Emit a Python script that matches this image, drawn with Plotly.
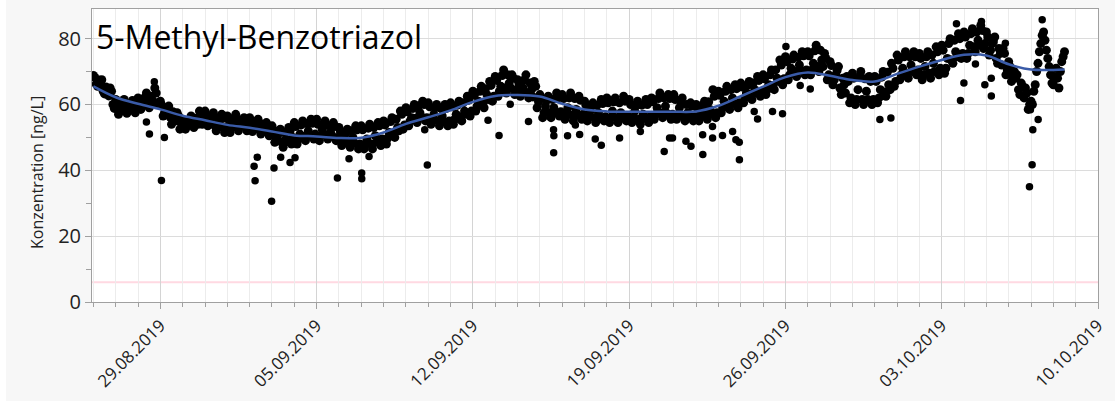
import pandas as pd
import plotly.graph_objects as go

# ---- data ----
# readings every 3 hours starting 26.08.2019 00:00
start_a = "2019-08-26 00:00"
conc_a = [
    68.8, 66.2, 67.4, 67.5, 63.2, 64.0, 65.0, 60.0,   # 26.08
    61.5, 57.0, 59.5, 61.5, 57.3, 59.0, 61.2, 57.5,   # 27.08
    62.0, 58.5, 60.5, 63.5, 59.0, 61.5, 65.0, 60.5,   # 28.08
    61.0, 56.5, 58.5, 59.5, 54.0, 56.0, 57.5, 52.5,   # 29.08
    55.5, 52.5, 54.0, 56.5, 53.0, 55.0, 58.0, 54.0,   # 30.08
    58.0, 53.5, 55.5, 57.5, 52.0, 54.5, 57.0, 51.5,   # 31.08
    56.5, 51.5, 54.0, 57.0, 52.0, 54.5, 56.0, 52.0,   # 01.09
    56.0, 51.8, 54.0, 55.5, 51.0, 53.0, 54.5, 50.5,   # 02.09
    53.5, 48.5, 50.5, 52.5, 47.0, 49.5, 53.0, 48.0,   # 03.09
    54.5, 48.0, 51.0, 55.0, 49.0, 52.0, 55.5, 49.5,   # 04.09
    55.5, 49.0, 52.5, 55.0, 49.5, 51.5, 54.5, 49.0,   # 05.09
    53.0, 47.5, 50.0, 52.5, 47.0, 50.0, 53.5, 46.5,   # 06.09
    53.5, 46.5, 49.5, 54.0, 46.5, 50.5, 54.5, 47.5,   # 07.09
    55.0, 48.0, 51.5, 56.0, 50.0, 53.0, 58.0, 52.5,   # 08.09
    59.0, 53.5, 56.0, 60.0, 54.5, 57.5, 61.0, 55.0,   # 09.09
    60.5, 54.0, 57.0, 60.0, 53.5, 56.5, 60.0, 53.5,   # 10.09
    60.5, 54.0, 57.0, 61.0, 55.0, 58.0, 62.5, 56.5,   # 11.09
    64.0, 58.0, 61.0, 65.5, 59.0, 63.0, 67.0, 61.0,   # 12.09
    68.5, 62.5, 65.5, 70.5, 63.5, 66.5, 69.0, 63.0,   # 13.09
    67.5, 62.5, 65.0, 69.0, 62.0, 64.5, 67.0, 59.0,   # 14.09
    63.0, 56.0, 59.5, 62.5, 56.0, 59.0, 63.5, 56.5,   # 15.09
    63.0, 55.5, 59.0, 63.5, 55.0, 58.5, 62.5, 55.5,   # 16.09
    61.0, 55.0, 58.0, 60.5, 54.5, 57.5, 61.5, 55.0,   # 17.09
    62.0, 54.5, 58.0, 62.0, 54.5, 57.5, 62.5, 55.0,   # 18.09
    61.5, 54.5, 58.0, 61.0, 54.0, 57.0, 61.5, 54.5,   # 19.09
    62.0, 55.5, 59.0, 63.5, 56.0, 59.5, 63.0, 55.5,   # 20.09
    63.0, 55.5, 59.0, 62.0, 55.0, 57.5, 60.5, 55.0,   # 21.09
    60.0, 55.0, 57.5, 61.0, 55.5, 58.5, 64.5, 56.0,   # 22.09
    64.0, 57.5, 61.0, 65.5, 58.5, 62.0, 66.0, 59.0,   # 23.09
    66.5, 60.5, 63.5, 67.0, 61.5, 64.5, 68.5, 62.5,   # 24.09
    69.0, 63.0, 66.0, 70.5, 64.5, 68.0, 73.5, 66.0,   # 25.09
    74.5, 67.5, 71.0, 75.0, 68.5, 72.0, 76.0, 69.0,   # 26.09
    76.0, 69.0, 72.5, 78.0, 70.0, 73.5, 75.5, 67.5,   # 27.09
    73.0, 66.0, 69.0, 71.5, 63.0, 66.0, 68.5, 60.5,   # 28.09
    69.5, 60.0, 64.5, 70.0, 60.0, 64.0, 68.5, 60.0,   # 29.09
    68.5, 60.5, 64.5, 70.0, 62.5, 66.0, 72.5, 65.5,   # 30.09
    75.0, 67.5, 71.0, 76.0, 68.0, 72.0, 76.0, 69.0,   # 01.10
    75.5, 67.5, 71.5, 76.0, 68.0, 72.5, 77.5, 69.0,   # 02.10
    78.0, 69.5, 74.0, 80.0, 72.5, 76.0, 81.5, 74.0,   # 03.10
    82.0, 74.0, 78.0, 83.0, 76.0, 79.5, 84.0, 77.0,   # 04.10
    82.0, 75.0, 78.5, 80.5, 72.5, 75.5, 77.0, 69.0,   # 05.10
    73.0, 67.0, 70.0, 69.0, 63.0, 65.5, 65.0, 58.5,   # 06.10
    61.0, 64.0, 70.0, 76.0, 81.0, 79.5, 74.0, 69.0,   # 07.10
    66.0, 71.0, 65.0, 73.0, 76.0,                     # 08.10
]

# readings every 3 hours starting 26.08.2019 01:30 (in between the ones above)
start_b = "2019-08-26 01:30"
conc_b = [
    68.2, 65.5, 66.8, 64.0, 65.3, 62.6, 64.0, 58.8,   # 26.08
    60.2, 58.3, 60.3, 58.2, 60.0, 58.4, 60.5, 58.6,   # 27.08
    61.2, 59.5, 62.2, 60.2, 62.5, 60.2, 63.5, 60.0,   # 28.08
    59.8, 57.5, 59.0, 56.2, 57.8, 55.0, 56.5, 54.2,   # 29.08
    54.5, 53.5, 55.3, 53.8, 55.8, 54.0, 56.8, 55.0,   # 30.08
    56.8, 54.8, 56.5, 53.5, 56.0, 53.2, 55.8, 53.0,   # 31.08
    55.3, 53.0, 55.8, 53.3, 55.3, 53.5, 55.0, 53.2,   # 01.09
    55.0, 52.8, 54.8, 52.3, 54.0, 52.0, 53.5, 51.0,   # 02.09
    52.3, 49.7, 51.7, 48.5, 51.5, 48.7, 52.0, 50.0,   # 03.09
    53.3, 49.5, 53.8, 50.3, 54.2, 50.5, 54.3, 51.0,   # 04.09
    54.0, 50.5, 53.8, 50.8, 53.5, 50.5, 53.3, 50.0,   # 05.09
    51.8, 48.8, 51.5, 48.5, 52.0, 48.3, 52.3, 48.0,   # 06.09
    52.3, 48.0, 52.8, 48.0, 53.0, 48.5, 53.5, 49.5,   # 07.09
    53.8, 49.8, 54.8, 51.0, 55.5, 52.0, 57.0, 53.8,   # 08.09
    57.8, 55.0, 58.8, 55.8, 59.5, 56.3, 60.0, 56.0,   # 09.09
    59.3, 55.3, 59.0, 55.0, 58.8, 54.8, 58.8, 55.0,   # 10.09
    59.3, 55.5, 59.8, 56.3, 60.5, 57.0, 61.3, 58.0,   # 11.09
    62.8, 59.5, 64.0, 60.3, 64.8, 61.5, 65.8, 62.5,   # 12.09
    67.3, 64.0, 68.8, 65.0, 69.0, 65.0, 68.0, 64.5,   # 13.09
    66.3, 64.0, 67.5, 63.5, 66.5, 62.3, 65.5, 60.8,   # 14.09
    61.8, 57.5, 61.3, 57.5, 61.5, 57.5, 62.0, 57.8,   # 15.09
    61.8, 57.0, 62.0, 56.8, 61.8, 56.8, 61.3, 57.0,   # 16.09
    59.8, 56.3, 59.5, 56.0, 59.8, 56.0, 60.3, 56.3,   # 17.09
    60.5, 56.0, 60.8, 56.0, 60.5, 56.0, 61.0, 56.5,   # 18.09
    60.0, 56.0, 59.8, 55.5, 59.8, 55.8, 60.0, 56.3,   # 19.09
    60.8, 57.0, 61.8, 57.3, 62.0, 57.3, 61.8, 57.0,   # 20.09
    61.5, 57.0, 60.8, 56.5, 60.0, 56.5, 59.5, 56.3,   # 21.09
    58.8, 56.5, 59.8, 56.8, 60.8, 57.0, 62.5, 57.5,   # 22.09
    62.8, 59.0, 64.0, 59.8, 64.5, 60.3, 64.8, 60.5,   # 23.09
    65.3, 62.0, 65.8, 63.0, 66.5, 63.5, 67.3, 64.0,   # 24.09
    67.8, 64.5, 69.0, 65.8, 70.5, 67.0, 72.0, 67.8,   # 25.09
    73.0, 69.0, 73.8, 70.0, 74.3, 70.3, 74.8, 70.5,   # 26.09
    74.8, 70.5, 76.3, 71.5, 76.5, 71.5, 74.0, 69.0,   # 27.09
    71.8, 67.5, 70.3, 65.0, 68.0, 63.5, 67.0, 62.0,   # 28.09
    68.0, 61.5, 68.3, 61.5, 67.8, 61.5, 67.0, 61.5,   # 29.09
    67.0, 62.0, 68.3, 63.8, 69.8, 64.5, 71.0, 67.0,   # 30.09
    73.5, 69.0, 74.5, 69.5, 74.5, 70.0, 74.5, 70.5,   # 01.10
    74.0, 69.0, 74.5, 69.5, 75.0, 70.0, 76.0, 71.0,   # 02.10
    76.5, 71.0, 78.5, 73.5, 79.5, 74.5, 80.0, 75.5,   # 03.10
    80.5, 75.5, 81.5, 77.5, 82.0, 78.0, 82.5, 78.5,   # 04.10
    80.5, 76.5, 79.0, 74.0, 77.0, 72.0, 75.5, 70.5,   # 05.10
    71.5, 68.5, 68.0, 64.5, 66.5, 62.0, 63.5, 60.0,   # 06.10
    60.0, 66.0, 72.5, 78.5, 82.0, 76.5, 71.5, 66.5,   # 07.10
    68.5, 68.0, 70.0, 74.5,                           # 08.10
]

outlier_times = [
    "2019-08-28 17:30", "2019-08-28 09:00", "2019-08-28 12:15", "2019-08-29 04:20",
    "2019-08-29 01:10", "2019-09-02 08:10", "2019-09-02 04:45", "2019-09-02 05:50",
    "2019-09-03 02:10", "2019-09-03 09:20", "2019-09-02 23:35", "2019-09-03 19:25",
    "2019-09-04 00:45", "2019-09-05 22:20", "2019-09-06 10:50", "2019-09-07 00:25",
    "2019-09-07 00:30", "2019-09-07 08:20", "2019-09-09 20:10", "2019-09-09 23:00",
    "2019-09-12 16:15", "2019-09-13 04:05", "2019-09-13 16:05", "2019-09-14 11:45",
    "2019-09-15 14:40", "2019-09-15 15:00", "2019-09-15 14:50", "2019-09-16 05:45",
    "2019-09-16 14:10", "2019-09-16 18:45", "2019-09-17 11:30", "2019-09-17 18:00",
    "2019-09-18 13:40", "2019-09-19 12:00", "2019-09-20 13:40", "2019-09-20 19:25",
    "2019-09-20 22:35", "2019-09-21 13:00", "2019-09-21 18:25", "2019-09-22 07:00",
    "2019-09-22 07:10", "2019-09-22 17:35", "2019-09-22 17:40", "2019-09-23 04:20",
    "2019-09-23 15:10", "2019-09-23 18:45", "2019-09-23 22:20", "2019-09-23 22:30",
    "2019-09-24 14:25", "2019-09-24 18:00", "2019-09-25 10:05", "2019-09-25 20:50",
    "2019-09-26 00:30", "2019-09-26 15:50", "2019-09-27 02:40", "2019-09-30 05:30",
    "2019-09-30 17:20", "2019-10-03 15:50", "2019-10-04 18:40", "2019-10-07 12:00",
    "2019-10-03 20:10", "2019-10-03 23:50", "2019-10-04 12:15", "2019-10-04 22:20",
    "2019-10-05 05:15", "2019-10-05 05:20", "2019-10-05 20:25", "2019-10-06 23:20",
    "2019-10-07 07:40", "2019-10-07 01:55", "2019-10-07 01:10", "2019-10-06 22:20",
]
outlier_values = [
    66.9, 54.7, 51.0, 50.0,
    36.9, 44.0, 41.2, 36.8,
    40.7, 44.0, 30.6, 42.4,
    43.8, 37.7, 43.5, 39.2,
    37.4, 44.2, 52.3, 41.6,
    55.2, 50.6, 60.1, 54.8,
    52.3, 50.5, 45.3, 50.5,
    53.8, 50.9, 49.5, 47.6,
    49.8, 51.8, 45.7, 49.8,
    49.8, 48.8, 47.3, 50.8,
    44.8, 53.3, 49.8, 50.6,
    51.8, 49.3, 48.5, 43.2,
    57.9, 55.6, 57.9, 57.2,
    77.6, 65.8, 64.7, 55.4,
    55.9, 84.5, 85.2, 85.7,
    61.2, 66.5, 72.3, 66.0,
    68.0, 62.6, 78.6, 58.4,
    55.4, 52.3, 41.7, 35.0,
]

trend_dates = [
    "2019-08-26 00:00", "2019-08-27 00:00", "2019-08-28 00:00", "2019-08-29 00:00",
    "2019-08-30 00:00", "2019-08-31 00:00", "2019-09-01 00:00", "2019-09-02 00:00",
    "2019-09-03 00:00", "2019-09-04 00:00", "2019-09-05 00:00", "2019-09-06 00:00",
    "2019-09-07 00:00", "2019-09-08 00:00", "2019-09-09 00:00", "2019-09-10 00:00",
    "2019-09-11 00:00", "2019-09-12 00:00", "2019-09-13 00:00", "2019-09-14 00:00",
    "2019-09-15 00:00", "2019-09-16 00:00", "2019-09-17 00:00", "2019-09-18 00:00",
    "2019-09-19 00:00", "2019-09-20 00:00", "2019-09-21 00:00", "2019-09-22 00:00",
    "2019-09-23 00:00", "2019-09-24 00:00", "2019-09-25 00:00", "2019-09-26 00:00",
    "2019-09-27 00:00", "2019-09-28 00:00", "2019-09-29 00:00", "2019-09-30 00:00",
    "2019-10-01 00:00", "2019-10-02 00:00", "2019-10-03 00:00", "2019-10-04 00:00",
    "2019-10-05 00:00", "2019-10-06 00:00", "2019-10-07 00:00", "2019-10-08 00:00",
    "2019-10-08 12:00",
]
trend_values = [
    65.5, 62.2, 60.2, 58.5,
    56.6, 55.2, 53.8, 52.9,
    51.8, 50.6, 50.3, 49.8,
    49.9, 51.5, 54.1, 56.1,
    58.2, 60.8, 62.6, 62.9,
    62.4, 60.2, 58.5, 57.9,
    57.8, 57.8, 57.8, 57.9,
    59.6, 62.5, 65.4, 68.3,
    69.7, 68.7, 67.4, 67.0,
    69.3, 71.5, 73.5, 75.1,
    74.9, 72.2, 70.6, 70.5,
    70.6,
]

limit_value = 6
title_text = "5-Methyl-Benzotriazol"
y_title = "Konzentration [ng/L]"
FONT = "Open Sans"

times_a = pd.date_range(start_a, periods=len(conc_a), freq="3h")
times_b = pd.date_range(start_b, periods=len(conc_b), freq="3h")

W, H = 1115, 401
ML, MR, MT, MB = 92, 17, 9, 99
PW, PH = W - ML - MR, H - MT - MB

fig = go.Figure()
for tx, vy in ((times_a, conc_a), (times_b, conc_b)):
    fig.add_trace(go.Scatter(
        x=tx, y=vy, mode="markers",
        marker=dict(color="black", size=9, line=dict(width=0)),
        showlegend=False,
    ))
fig.add_trace(go.Scatter(
    x=outlier_times, y=outlier_values, mode="markers",
    marker=dict(color="black", size=7.5, line=dict(width=0)),
    showlegend=False,
))
fig.add_trace(go.Scatter(
    x=trend_dates, y=trend_values, mode="lines",
    line=dict(color="#3a5ba8", width=2.5, shape="spline"),
    showlegend=False,
))

fig.add_shape(type="line", xref="paper", yref="y", x0=0, x1=1,
              y0=limit_value, y1=limit_value,
              line=dict(color="#ffd9e2", width=2), layer="below")
# white strip at far left edge of the image
fig.add_shape(type="rect", xref="paper", yref="paper",
              x0=-ML / PW, x1=-(ML - 6) / PW, y0=-MB / PH, y1=1 + MT / PH,
              fillcolor="white", line=dict(width=0), layer="below")

fig.add_annotation(text=title_text, xref="paper", yref="paper", x=0.002, y=0.985,
                   xanchor="left", yanchor="top", showarrow=False,
                   font=dict(size=32, color="black", family=FONT))
fig.add_annotation(text=y_title, xref="paper", yref="paper",
                   x=(37 - ML) / PW, y=(302 - 173) / PH, textangle=-90,
                   xanchor="center", yanchor="middle", showarrow=False,
                   font=dict(size=16, color="#222", family=FONT))

fig.update_layout(
    width=W, height=H,
    margin=dict(l=ML, r=MR, t=MT, b=MB, autoexpand=False),
    paper_bgcolor="#f7f7f7", plot_bgcolor="white",
    font=dict(family=FONT, color="#222"),
)
fig.update_xaxes(
    type="date", automargin=False,
    range=["2019-08-25 22:30", "2019-10-10 00:00"],
    tick0="2019-08-29", dtick=7 * 86400000, tickformat="%d.%m.%Y",
    tickangle=-45, tickfont=dict(size=17, color="#222"),
    ticks="outside", ticklen=6, tickcolor="#a0a0a0",
    showgrid=True, gridcolor="#d4d4d4", gridwidth=1,
    minor=dict(dtick=86400000, tick0="2019-08-29", showgrid=True, gridcolor="#ececec",
               ticks="outside", ticklen=4, tickcolor="#a0a0a0"),
    showline=True, linecolor="#a0a0a0", linewidth=1, mirror=True,
    zeroline=False,
)
fig.update_yaxes(
    automargin=False,
    range=[0, 89], dtick=20, tick0=0,
    tickfont=dict(size=20, color="#222"),
    ticks="outside", ticklen=6, tickcolor="#a0a0a0",
    showgrid=True, gridcolor="#dcdcdc", gridwidth=1,
    minor=dict(dtick=10, ticks="outside", ticklen=5, tickcolor="#a0a0a0", showgrid=False),
    showline=True, linecolor="#a0a0a0", linewidth=1, mirror=True,
    zeroline=False,
)

# remove the default page margin so the figure sits at the window's top-left corner
fig.write_html("out.html", config={"displayModeBar": False},
               post_script="document.body.style.margin='0';")
